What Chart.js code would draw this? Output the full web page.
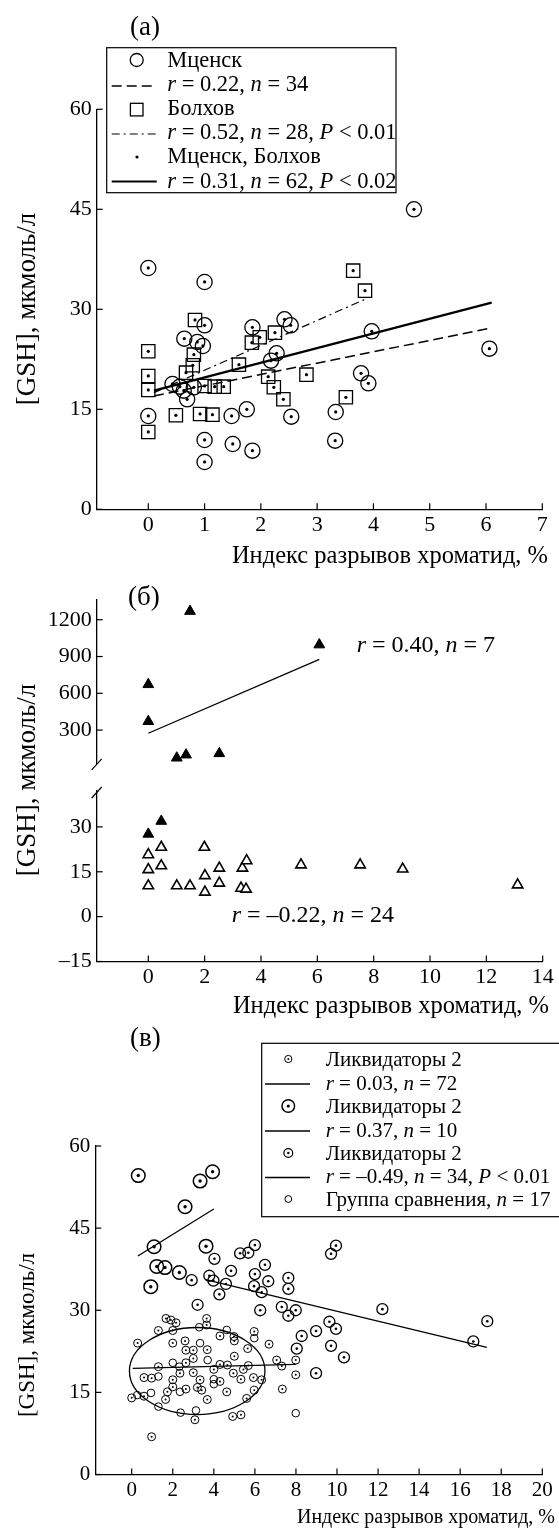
<!DOCTYPE html>
<html><head><meta charset="utf-8">
<script src="https://cdn.jsdelivr.net/npm/chart.js@4.4.1/dist/chart.umd.min.js"></script>
<style>
html,body{margin:0;padding:0;background:#fff;}
body{width:559px;height:1531px;position:relative;overflow:hidden;}
canvas{position:absolute;left:0;}
</style></head><body>
<canvas id="ca" width="559" height="575" style="top:0px"></canvas>
<canvas id="cb1" width="559" height="207" style="top:575px"></canvas>
<canvas id="cb2" width="559" height="430" style="top:600px"></canvas>
<canvas id="cc" width="559" height="511" style="top:1020px"></canvas>
<script>
// ================= DATA =================
// ---- Panel (а) ----
const aXTicks = [0,1,2,3,4,5,6,7];
const aYTicks = [0,15,30,45,60];
const aMtsensk = [[0,36.2],[1,34.1],[1,27.6],[0.64,25.6],[0.87,25.1],[0.97,24.5],[1.85,27.3],[2.42,28.5],[2.53,27.6],[2.28,23.4],[2.18,22.3],[0.43,18.8],[0.56,18.4],[0.63,17.8],[0.81,18.3],[0.69,16.5],[0,14.0],[1.48,14.0],[1.75,15.0],[2.54,13.9],[1,10.4],[1.5,9.8],[1.85,8.8],[1,7.1],[3.33,14.6],[3.32,10.3],[3.97,26.7],[6.06,24.1],[3.78,20.4],[3.91,18.9],[4.72,45.0]];
const aBolkhov = [[0.83,28.4],[0,23.7],[0,20.0],[0,17.9],[0.81,23.2],[0.79,21.6],[0.67,20.5],[1.0,18.5],[1.18,18.4],[1.34,18.4],[0.49,14.1],[0.92,14.3],[1.14,14.2],[0,11.6],[1.84,25.0],[1.98,25.8],[2.25,26.5],[1.61,21.7],[2.13,19.9],[2.23,18.3],[2.40,16.5],[2.81,20.2],[3.51,16.8],[3.64,35.8],[3.85,32.8]];
const aFitMtsensk = [[0.1,17.0],[6.1,27.2]];
const aFitBolkhov = [[0.1,17.5],[3.85,31.5]];
const aFitAll = [[0.1,17.8],[6.1,31.0]];
const aLegend = ['Мценск','*r* = 0.22, *n* = 34','Болхов','*r* = 0.52, *n* = 28, *P* < 0.01','Мценск, Болхов','*r* = 0.31, *n* = 62, *P* < 0.02'];

// ---- Panel (б) ----
const bXTicks = [0,2,4,6,8,10,12,14];
const bYTicksHigh = [300,600,900,1200];
const bYTicksLow = [-15,0,15,30];
const bHigh = [[1.48,1269],[6.07,996],[0,672],[0,371],[1.01,73],[1.34,98],[2.52,109]];
const bFitHigh = [[0,274],[6.07,876]];
const bLowFilled = [[0,27.6],[0.46,31.9]];
const bLowHollow = [[0,20.7],[0,15.7],[0,10.3],[0.46,23.2],[0.46,17.0],[1.01,10.3],[1.48,10.3],[1.99,23.2],[2.01,13.7],[2.01,8.2],[2.52,16.2],[2.52,11.2],[3.34,16.2],[3.49,18.7],[3.29,9.5],[3.47,9.2],[5.42,17.3],[7.52,17.3],[9.03,15.9],[13.11,10.6]];
const bTextHigh = '*r* = 0.40, *n* = 7';
const bTextLow = '*r* = –0.22, *n* = 24';

// ---- Panel (в) ----
const cXTicks = [0,2,4,6,8,10,12,14,16,18,20];
const cYTicks = [0,15,30,45,60];
const cSmall = [[1.67,28.5],[1.91,28.2],[2.16,27.7],[3.65,28.5],[3.65,27.3],[1.30,26.3],[2.0,26.3],[4.98,25.2],[5.0,24.4],[4.30,25.3],[5.97,26.1],[0.29,24.0],[2.0,24.0],[2.60,24.4],[3.0,22.7],[2.64,22.7],[3.68,22.8],[5.65,23.0],[6.69,23.8],[3.0,21.2],[5.0,21.6],[4.66,20.0],[4.30,20.1],[4.0,19.2],[5.44,19.2],[5.68,19.9],[2.64,20.4],[1.30,19.7],[7.06,20.9],[7.31,19.8],[7.99,20.9],[2.35,18.5],[3.0,18.6],[4.95,18.5],[0.6,17.7],[0.97,17.6],[2.0,17.3],[3.33,17.3],[4.30,17.0],[5.32,17.4],[5.93,17.7],[6.33,17.3],[2.0,16.0],[2.64,15.6],[3.20,15.9],[3.41,15.4],[1.74,15.1],[4.63,15.1],[5.97,15.4],[0.0,14.0],[0.6,14.3],[1.65,13.7],[3.68,13.7],[5.60,13.9],[3.08,10.0],[4.92,10.6],[5.32,10.9],[7.34,15.6],[7.99,18.2],[0.97,6.9]];
const cLarge = [[0.32,54.6],[3.33,53.6],[3.94,55.3],[2.6,48.9],[1.09,41.6],[1.22,38.0],[1.62,37.8],[2.32,36.9],[0.93,34.3],[3.62,41.7]];
const cMedium = [[4.03,39.4],[2.92,35.5],[3.98,35.4],[3.78,36.3],[4.27,32.9],[4.59,34.8],[3.21,31.0],[4.84,37.2],[5.28,40.4],[5.68,40.5],[6.0,41.9],[6.49,38.3],[6.0,36.6],[5.96,34.4],[6.33,33.3],[6.65,35.3],[6.26,30.0],[7.31,30.6],[7.63,29.0],[7.63,35.9],[7.63,33.9],[7.99,30.0],[8.28,25.3],[8.04,23.0],[8.98,26.2],[9.63,27.9],[9.95,26.6],[9.71,23.5],[10.34,21.4],[8.98,18.5],[12.21,30.2],[16.64,24.3],[17.32,28.0],[9.71,40.3],[9.95,41.8]];
const cPlain = [[3.29,26.9],[4.63,26.4],[5.97,24.9],[3.33,24.0],[3.70,20.9],[2.0,20.4],[2.32,19.7],[1.30,17.9],[4.0,17.4],[4.0,16.5],[2.35,15.1],[0.94,14.9],[0.27,14.5],[1.30,12.4],[2.38,11.3],[3.13,11.7],[7.99,11.2]];
const cFit72 = [[0.05,19.4],[8.0,20.1]];
const cFit10 = [[0.3,39.9],[4.0,48.5]];
const cFit34 = [[3.6,35.6],[17.3,23.2]];
const cEllipse = [3.19, 18.9, 3.3, 7.95]; // centre x, centre y, half-width, half-height (data units)
const cLegend = ['Ликвидаторы 2','*r* = 0.03, *n* = 72','Ликвидаторы 2','*r* = 0.37, *n* = 10','Ликвидаторы 2','*r* = –0.49, *n* = 34, *P* < 0.01','Группа сравнения, *n* = 17'];

const xTitle = 'Индекс разрывов хроматид, %';
const yTitle = '[GSH], мкмоль/л';

// ================= HELPERS =================
const SERIF = "'Liberation Serif', 'Times New Roman', serif";
Chart.defaults.font.family = SERIF;
Chart.defaults.color = '#000';

function pts(arr){ return arr.map(p => ({x:p[0], y:p[1]})); }
function markers(arr, style, r, bw, fill){
  return {data:pts(arr), pointStyle:style, pointRadius:r, pointHoverRadius:r, pointBorderWidth:bw,
    pointBorderColor:'#000', pointBackgroundColor: fill || 'rgba(0,0,0,0)', showLine:false, clip:false};
}
function fitLine(arr, w, dash){
  return {data:pts(arr), showLine:true, borderColor:'#000', borderWidth:w, borderDash:dash||[],
    pointRadius:0, pointHoverRadius:0, fill:false, clip:false};
}
function fmt(v){ return v < 0 ? '\u2013' + Math.abs(v) : String(v); }
function axis(min, max, ticks, size, fitSize, display, pad){
  const o = {
    type:'linear', min, max, display: display !== false,
    afterBuildTicks: s => { s.ticks = ticks.map(v => ({value:v})); },
    grid:{display:true, drawOnChartArea:false, drawTicks:false},
    border:{display:true, color:'#000', width:1.3},
    ticks:{color:'#000', font:{family:SERIF, size}, padding:pad, autoSkip:false, maxRotation:0, minRotation:0, callback: fmt}
  };
  if (fitSize != null) o.afterFit = s => { if (s.isHorizontal()) s.height = fitSize; else s.width = fitSize; };
  return o;
}
function baseOptions(pad, xs, ys){
  return {responsive:false, animation:false, devicePixelRatio:1, events:[],
    layout:{padding:pad},
    plugins:{legend:{display:false}, tooltip:{enabled:false}},
    scales:{x:xs, y:ys}};
}
function rich(ctx, str, x, y, size, align){
  const parts = str.split('*'); const segs = []; let total = 0;
  parts.forEach((p,i) => { if (!p) return; const it = i % 2 === 1;
    ctx.font = (it ? 'italic ' : '') + size + 'px ' + SERIF; const w = ctx.measureText(p).width;
    segs.push([p,it,w]); total += w; });
  let cx = align === 'right' ? x - total : align === 'center' ? x - total/2 : x;
  ctx.textBaseline = 'alphabetic'; ctx.textAlign = 'left'; ctx.fillStyle = '#000';
  segs.forEach(([p,it,w]) => { ctx.font = (it ? 'italic ' : '') + size + 'px ' + SERIF; ctx.fillText(p, cx, y); cx += w; });
}
function vtext(ctx, str, x, y, size){
  ctx.save(); ctx.translate(x, y); ctx.rotate(-Math.PI/2);
  ctx.font = size + 'px ' + SERIF; ctx.textAlign = 'center'; ctx.textBaseline = 'middle'; ctx.fillStyle = '#000';
  ctx.fillText(str, 0, 0); ctx.restore();
}
function line(ctx, x1, y1, x2, y2, w, dash){
  ctx.save(); ctx.lineWidth = w; ctx.strokeStyle = '#000'; ctx.setLineDash(dash || []);
  ctx.beginPath(); ctx.moveTo(x1,y1); ctx.lineTo(x2,y2); ctx.stroke(); ctx.restore();
}
function circ(ctx, x, y, r, w, filled){
  ctx.save(); ctx.beginPath(); ctx.arc(x, y, r, 0, Math.PI*2);
  if (filled){ ctx.fillStyle = '#000'; ctx.fill(); } else { ctx.lineWidth = w; ctx.strokeStyle = '#000'; ctx.stroke(); }
  ctx.restore();
}
const inwardTicks = {
  id:'inwardTicks',
  afterDraw(chart){
    const ctx = chart.ctx, ca = chart.chartArea, xs = chart.scales.x, ys = chart.scales.y;
    ctx.save(); ctx.strokeStyle = '#000'; ctx.lineWidth = 1.2;
    if (xs.options.display) xs.ticks.forEach(t => { const p = xs.getPixelForValue(t.value);
      ctx.beginPath(); ctx.moveTo(p, ca.bottom); ctx.lineTo(p, ca.bottom - 6); ctx.stroke(); });
    ys.ticks.forEach(t => { const p = ys.getPixelForValue(t.value);
      ctx.beginPath(); ctx.moveTo(ca.left, p); ctx.lineTo(ca.left + 6, p); ctx.stroke(); });
    ctx.restore();
  }
};

// ================= PANEL (а) =================
new Chart(document.getElementById('ca'), {
  type:'scatter',
  data:{datasets:[
    fitLine(aFitMtsensk, 1.5, [10,5]),
    fitLine(aFitBolkhov, 1.2, [8,4,2,4]),
    fitLine(aFitAll, 2.2),
    markers(aMtsensk, 'circle', 7.6, 1.3),
    markers(aBolkhov, 'rect', 9.4, 1.3),
    markers(aMtsensk.concat(aBolkhov), 'circle', 1.6, 0, '#000')
  ]},
  options: baseOptions({left:0, top:109.3, right:16.7, bottom:0},
    axis(-0.9165, 7, aXTicks, 22, 65.7, true, 3),
    axis(0, 60, aYTicks, 22, 96.7, true, 5)),
  plugins:[inwardTicks, {id:'decoA', afterDraw(chart){
    const ctx = chart.ctx;
    rich(ctx, '(а)', 130, 35, 27);
    ctx.save(); ctx.lineWidth = 1.2; ctx.strokeStyle = '#000'; ctx.strokeRect(106.7, 47.7, 289.3, 145); ctx.restore();
    const base = [66.7, 91, 115, 138.7, 163, 187.5];
    aLegend.forEach((t,i) => rich(ctx, t, 167.3, base[i], 22.5));
    circ(ctx, 136.7, 60, 6.5, 1.3);
    ctx.save(); ctx.lineWidth = 1.3; ctx.strokeRect(130.4, 103.3, 12.6, 12.6); ctx.restore();
    circ(ctx, 137, 157, 1.6, 0, true);
    line(ctx, 111.7, 86, 156.7, 86, 1.5, [10,5]);
    line(ctx, 111.7, 134, 156.7, 134, 1.2, [8,4,2,4]);
    line(ctx, 111.7, 181.5, 156.7, 181.5, 1.8);
    rich(ctx, xTitle, 548, 563, 24.5, 'right');
    vtext(ctx, yTitle, 28, 309, 27);
  }}]
});

// ================= PANEL (б), upper part =================
new Chart(document.getElementById('cb1'), {
  type:'scatter',
  data:{datasets:[
    fitLine(bFitHigh, 1.3),
    markers(bHigh, 'triangle', 6.2, 1, '#000')
  ]},
  options: baseOptions({left:0, top:24.5, right:16.3, bottom:6.8},
    axis(-1.832, 14, bXTicks, 22, null, false, 3),
    axis(25, 1365, bYTicksHigh, 22, 96.7, true, 5)),
  plugins:[inwardTicks, {id:'decoB1', afterDraw(chart){
    const ctx = chart.ctx, ca = chart.chartArea;
    rich(ctx, '(б)', 128, 30, 27);
    rich(ctx, bTextHigh, 356.7, 76.7, 24);
    line(ctx, ca.left - 5, ca.bottom + 6, ca.left + 5, ca.bottom - 5, 1.2);
  }}]
});

// ================= PANEL (б), lower part =================
new Chart(document.getElementById('cb2'), {
  type:'scatter',
  data:{datasets:[
    markers(bLowFilled, 'triangle', 6.2, 1, '#000'),
    markers(bLowHollow, 'triangle', 6.0, 1.6, '#fff'),
    markers(bLowHollow, 'circle', 1.3, 0, '#000')
  ]},
  options: baseOptions({left:0, top:191, right:16.3, bottom:0},
    axis(-1.832, 14, bXTicks, 22, 68.5, true, 3),
    axis(-15, 42, bYTicksLow, 22, 96.7, true, 5)),
  plugins:[inwardTicks, {id:'decoB2', afterDraw(chart){
    const ctx = chart.ctx, ca = chart.chartArea;
    rich(ctx, bTextLow, 231.7, 321.7, 24);
    rich(ctx, xTitle, 549, 413, 24.5, 'right');
    vtext(ctx, yTitle, 28, 180, 27);
    line(ctx, ca.left - 5, ca.top + 7, ca.left + 5, ca.top - 4, 1.2);
  }}]
});

// ================= PANEL (в) =================
new Chart(document.getElementById('cc'), {
  type:'scatter',
  data:{datasets:[
    fitLine(cFit72, 1.3),
    fitLine(cFit10, 1.3),
    fitLine(cFit34, 1.3),
    markers(cPlain, 'circle', 3.8, 1),
    markers(cSmall, 'circle', 4.0, 1),
    markers(cSmall, 'circle', 1.0, 0, '#000'),
    markers(cMedium, 'circle', 5.5, 1.3),
    markers(cMedium, 'circle', 1.3, 0, '#000'),
    markers(cLarge, 'circle', 6.8, 1.5),
    markers(cLarge, 'circle', 1.7, 0, '#000')
  ]},
  options: baseOptions({left:0, top:126, right:16.7, bottom:0},
    axis(-1.773, 20, cXTicks, 21, 56.5, true, 3),
    axis(0, 60, cYTicks, 21, 95.3, true, 5)),
  plugins:[inwardTicks, {id:'decoC',
    afterDatasetsDraw(chart){
      const ctx = chart.ctx, xs = chart.scales.x, ys = chart.scales.y;
      const cx = xs.getPixelForValue(cEllipse[0]), cy = ys.getPixelForValue(cEllipse[1]);
      const rx = Math.abs(xs.getPixelForValue(cEllipse[0] + cEllipse[2]) - cx);
      const ry = Math.abs(ys.getPixelForValue(cEllipse[1] + cEllipse[3]) - cy);
      ctx.save(); ctx.lineWidth = 1.3; ctx.strokeStyle = '#000'; ctx.beginPath();
      ctx.ellipse(cx, cy, rx, ry, 0, 0, Math.PI*2); ctx.stroke(); ctx.restore();
    },
    afterDraw(chart){
      const ctx = chart.ctx;
      rich(ctx, '(в)', 130, 26, 27);
      ctx.save(); ctx.lineWidth = 1.2; ctx.strokeStyle = '#000'; ctx.fillStyle = '#fff';
      ctx.fillRect(261.7, 23.3, 320, 173.4); ctx.strokeRect(261.7, 23.3, 320, 173.4); ctx.restore();
      const base = [46, 69.5, 93, 116.5, 140, 163, 186];
      cLegend.forEach((t,i) => rich(ctx, t, 325.7, base[i], 21));
      circ(ctx, 288.3, base[0] - 7, 3.6, 1); circ(ctx, 288.3, base[0] - 7, 1, 0, true);
      circ(ctx, 288.3, base[2] - 7, 6.3, 1.5); circ(ctx, 288.3, base[2] - 7, 1.6, 0, true);
      circ(ctx, 288.3, base[4] - 7, 4.4, 1.2); circ(ctx, 288.3, base[4] - 7, 1.2, 0, true);
      circ(ctx, 288.3, base[6] - 7, 3.4, 1);
      [1,3,5].forEach(i => line(ctx, 265, base[i] - 5.5, 310, base[i] - 5.5, 1.3));
      rich(ctx, xTitle, 555, 503.3, 20, 'right');
      vtext(ctx, yTitle, 28, 315, 23);
    }}]
});
</script>
</body></html>
